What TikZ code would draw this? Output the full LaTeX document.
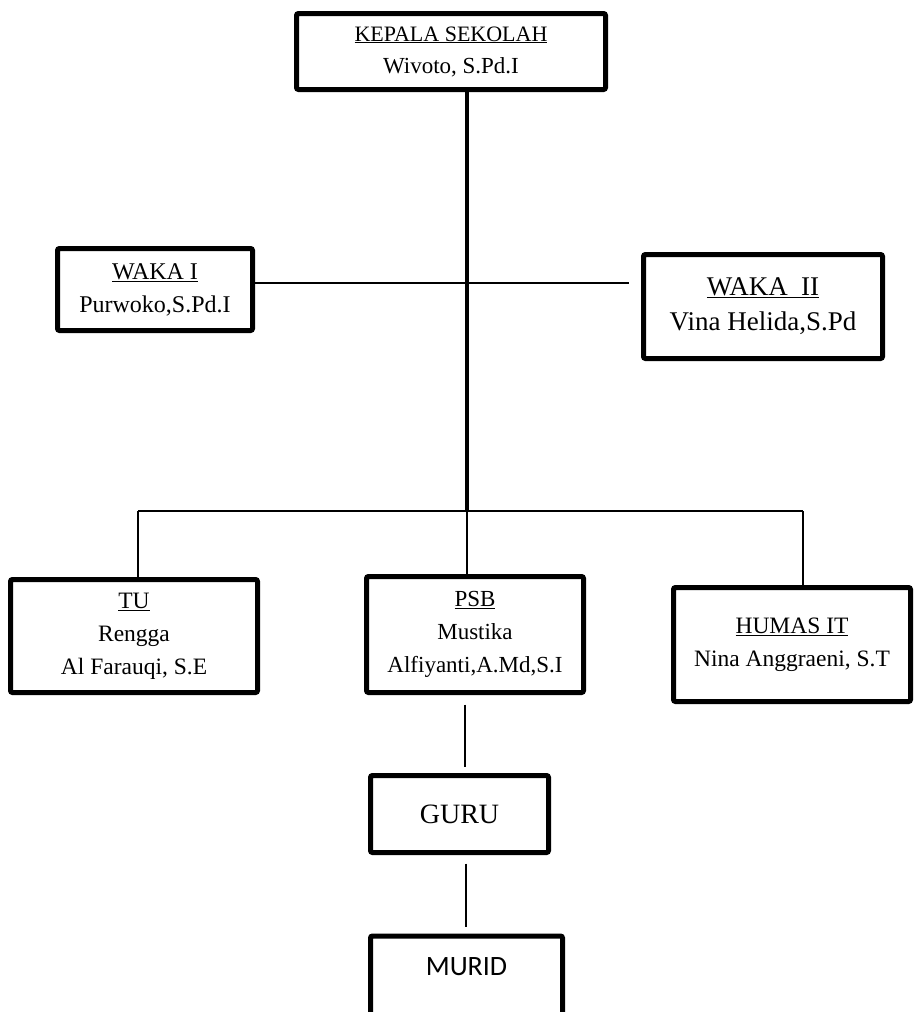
\documentclass[tikz,border=0pt]{standalone}
\usepackage{fontspec}
\setmainfont{Liberation Serif}
\newfontfamily\muridfont{Carlito}
\begin{document}
\begin{tikzpicture}[x=1pt,y=-1pt,font=\fontsize{23.5}{33}\selectfont]
            \useasboundingbox (0,0) rectangle (915,1012);
            \begin{scope}[every node/.style={draw,line width=5pt,rounded corners=2pt,align=center,inner sep=0pt}]
                \node (kepala) at (451,51.5) [minimum width=309pt,minimum height=76pt,font=\fontsize{23}{32}\selectfont] {\underline{\fontsize{22}{32}\selectfont KEPALA SEKOLAH}\\Wivoto, S.Pd.I};
                \node (waka1) at (155,289.5) [minimum width=195pt,minimum height=82pt,font=\fontsize{24}{33}\selectfont] {\underline{WAKA I}\\Purwoko,S.Pd.I};
                \node (waka2) at (763,306.5) [minimum width=239pt,minimum height=104pt,font=\fontsize{27}{35}\selectfont] {\underline{WAKA\ \ II}\\Vina Helida,S.Pd};
                \node (tu) at (134,636) [minimum width=247pt,minimum height=113pt] {\underline{TU}\\Rengga\\Al Farauqi, S.E};
                \node (psb) at (475,634.5) [minimum width=217pt,minimum height=116pt,font=\fontsize{23}{33}\selectfont] {\underline{PSB}\\Mustika\\Alfiyanti,A.Md,S.I};
                \node (humas) at (792,644.5) [minimum width=237pt,minimum height=114pt] {\underline{HUMAS IT}\\Nina Anggraeni, S.T};
                \node (guru) at (459.5,814) [minimum width=178pt,minimum height=77pt,font=\fontsize{28}{30}\selectfont] {GURU};
                \node (murid) at (466.5,1000) [minimum width=192pt,minimum height=128pt] {};
            \end{scope}
            \node (muridlabel) at (466.5,967) {\fontsize{28}{30}\selectfont\muridfont MURID};
            \coordinate (branch) at (467,511);
            \coordinate (left) at (138,511);
            \coordinate (right) at (803,511);
            \coordinate (wakaend) at (629,283);
            \path[line width=4pt] (kepala.south -| branch) edge (branch);
            \path[line width=2.5pt] (waka1.east |- wakaend) edge (wakaend);
            \path[line width=2pt]
                (left) edge (right)
                (left) edge (left |- tu.north)
                (branch) edge (branch |- psb.north)
                (right) edge (right |- humas.north);
            \path[line width=1.5pt]
                ([xshift=-10pt,yshift=-9.5pt]psb.south) edge ([xshift=5.5pt,yshift=6.5pt]guru.north)
                ([xshift=6.5pt,yshift=-8.5pt]guru.south) edge ([xshift=-0.5pt,yshift=7pt]murid.north);
        \end{tikzpicture}
\end{document}
